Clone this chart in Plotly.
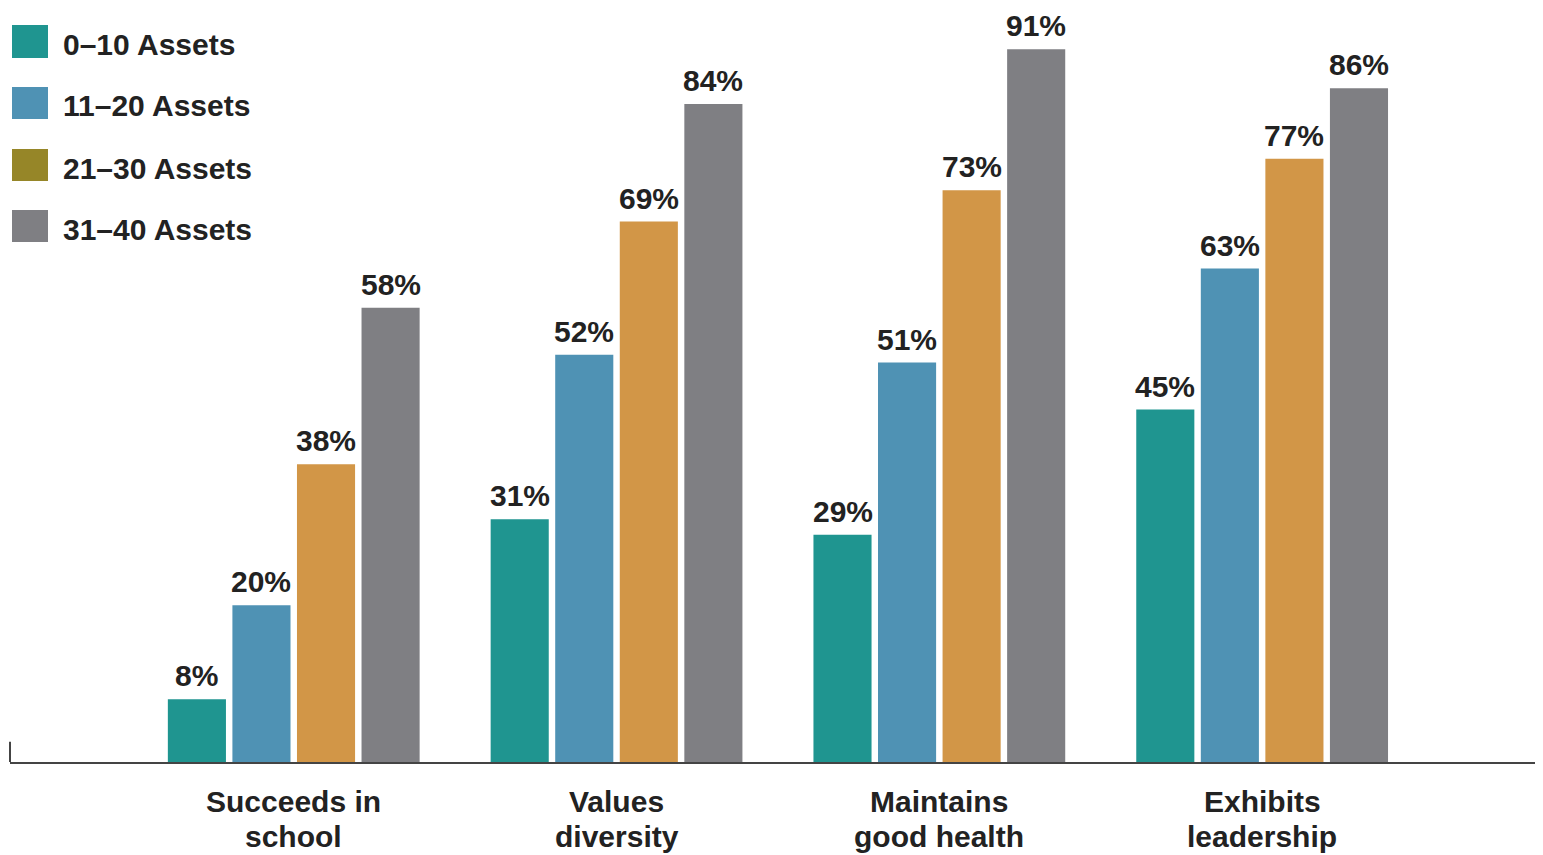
import plotly.graph_objects as go

categories = ["Succeeds in<br>school", "Values<br>diversity", "Maintains<br>good health", "Exhibits<br>leadership"]
series_names = ["0–10 Assets", "11–20 Assets", "21–30 Assets", "31–40 Assets"]
assets_0_10 = [8, 31, 29, 45]
assets_11_20 = [20, 52, 51, 63]
assets_21_30 = [38, 69, 73, 77]
assets_31_40 = [58, 84, 91, 86]
series_values = [assets_0_10, assets_11_20, assets_21_30, assets_31_40]

bar_colors = ["#1f9590", "#4f92b4", "#d29647", "#7f7f83"]
legend_colors = ["#1f9590", "#4f92b4", "#968628", "#7f7f83"]

W, H = 1543, 855
OFF = 8  # page offset of the figure inside the browser window
L, R, T, B = 2, 0, 2, 101
pw, ph = W - L - R, H - T - B
CAT_PX = 322.8  # pixels per category
X0 = -0.879
X1 = X0 + pw / CAT_PX
BARGAP = 0.2
SLOT_PX = CAT_PX * (1 - BARGAP) / len(series_names)


def px_x(x):
    return (x - OFF - L) / pw


def px_y(y):
    return 1 - (y - OFF - T) / ph


FONT = "Liberation Sans, Arial, sans-serif"
TXT = "#222222"

fig = go.Figure()
shapes = []
annotations = []
n = len(series_names)
for i, (name, vals, col) in enumerate(zip(series_names, series_values, bar_colors)):
    fig.add_trace(go.Bar(
        x=categories, y=vals, name=name, marker=dict(color=col, line=dict(width=0)),
        showlegend=False,
    ))
    for cat, v in zip(categories, vals):
        annotations.append(dict(xref="x", yref="y", x=cat, y=v,
                                xshift=(i - (n - 1) / 2) * SLOT_PX, yshift=5,
                                xanchor="center", yanchor="bottom", showarrow=False,
                                text=f"<b>{v}%</b>",
                                font=dict(family=FONT, size=30, color=TXT)))

legend_rows = [(25, 58), (87, 119), (149, 181), (210, 242)]
for (y0, y1), name, col in zip(legend_rows, series_names, legend_colors):
    shapes.append(dict(type="rect", xref="paper", yref="paper",
                       x0=px_x(12), x1=px_x(48), y0=px_y(y1), y1=px_y(y0),
                       fillcolor=col, line=dict(width=0)))
    annotations.append(dict(xref="paper", yref="paper", x=px_x(61), y=px_y((y0 + y1) / 2 + 3),
                            xanchor="left", yanchor="middle", showarrow=False,
                            text=f"<b>{name}</b>", font=dict(family=FONT, size=30, color=TXT)))

# category labels, one annotation per line
for cat in categories:
    for line_text, ypix in zip(cat.split("<br>"), (802, 836)):
        annotations.append(dict(xref="x", yref="paper", x=cat, y=px_y(ypix),
                                xanchor="center", yanchor="middle", showarrow=False,
                                text=f"<b>{line_text}</b>",
                                font=dict(family=FONT, size=30, color=TXT)))

# small left tick on the baseline
shapes.append(dict(type="line", xref="paper", yref="y", x0=0, x1=0, y0=0, y1=2.6,
                   line=dict(color="#444444", width=2)))

fig.update_layout(
    width=W, height=H,
    margin=dict(l=L, r=R, t=T, b=B),
    paper_bgcolor="white", plot_bgcolor="white",
    barmode="group", bargap=BARGAP, bargroupgap=0.1,
    shapes=shapes, annotations=annotations,
    xaxis=dict(range=[X0, X1], showline=True, linecolor="#444444", linewidth=2,
               showgrid=False, zeroline=False, ticks="", showticklabels=False),
    yaxis=dict(range=[0, 96], visible=False, showgrid=False, zeroline=False),
    font=dict(family=FONT),
)

fig.write_html("out.html")
